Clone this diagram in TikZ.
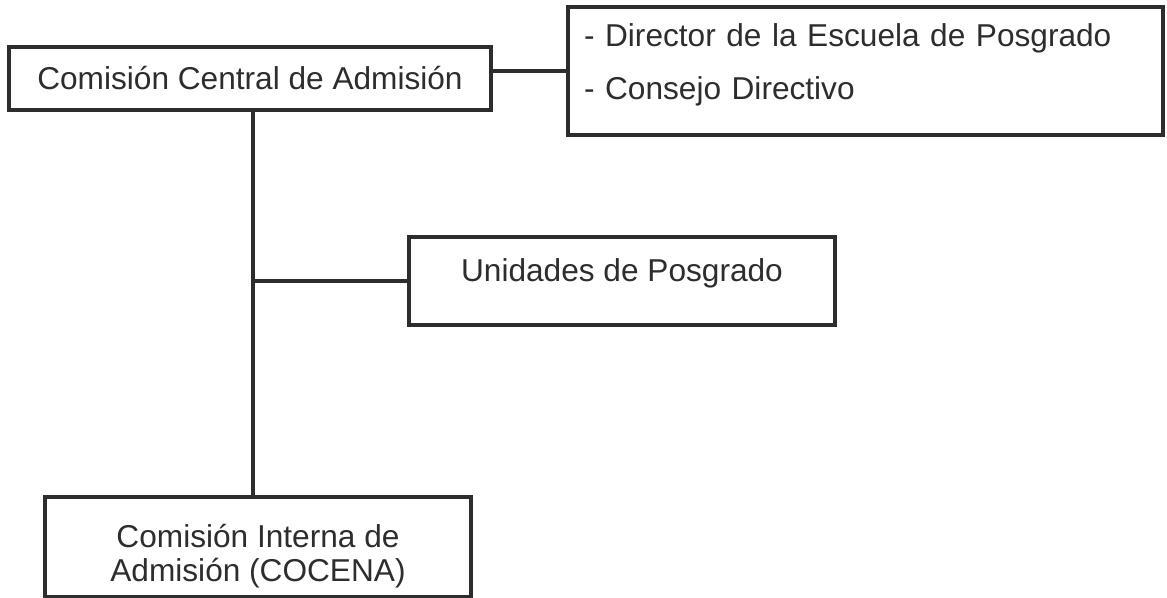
\documentclass[tikz,border=0pt]{standalone}
\usepackage{fontspec}
\setmainfont{Liberation Sans}
\usetikzlibrary{calc}
\definecolor{inkgray}{RGB}{45,45,45}
\newcommand{\lift}[2]{\raisebox{#1}[\height][\depth]{#2}}
\tikzset{
  every picture/.style={
    line width=2pt,
    draw=inkgray
  },
  orgbox/.style={
    draw=inkgray, rectangle, inner sep=0pt,
    text=inkgray,
    font=\fontsize{18}{19.3}\selectfont
  }
}

\begin{document}
\begin{tikzpicture}[
      x=0.02cm, y=-0.02cm
    ]
    \useasboundingbox (0,0) rectangle (1167,598);
    \node [orgbox, minimum width=9.64cm, minimum height=1.26cm] (central) at (250,78.5) {Comisión Central de Admisión};
    \node [orgbox, minimum width=11.9cm, minimum height=2.56cm,
      text width=11.26cm, inner xsep=0.32cm, align=left,
      font=\fontsize{18}{30.7}\selectfont] (miembros) at (865.5,71)
      {\lift{3.5pt}{- Director de la Escuela de Posgrado}\\\lift{3.5pt}{- Consejo Directivo}};
    \node [orgbox, minimum width=8.52cm, minimum height=1.76cm] (unidades) at (622,281) {\lift{4.5pt}{Unidades de Posgrado}};
    \node [orgbox, minimum width=8.52cm, minimum height=2cm, align=center] (interna) at (258,547)
      {\lift{-5pt}{Comisión Interna de}\\\lift{-5pt}{Admisión (COCENA)}};
    % tronco vertical y ramas
    \coordinate (tronco) at (253,0);
    \draw (central.south -| tronco) -- (interna.north -| tronco);
    \draw (miembros.west) -- (miembros.west -| central.east);
    \draw (unidades.west) -- (unidades.west -| tronco);
  \end{tikzpicture}
\end{document}
